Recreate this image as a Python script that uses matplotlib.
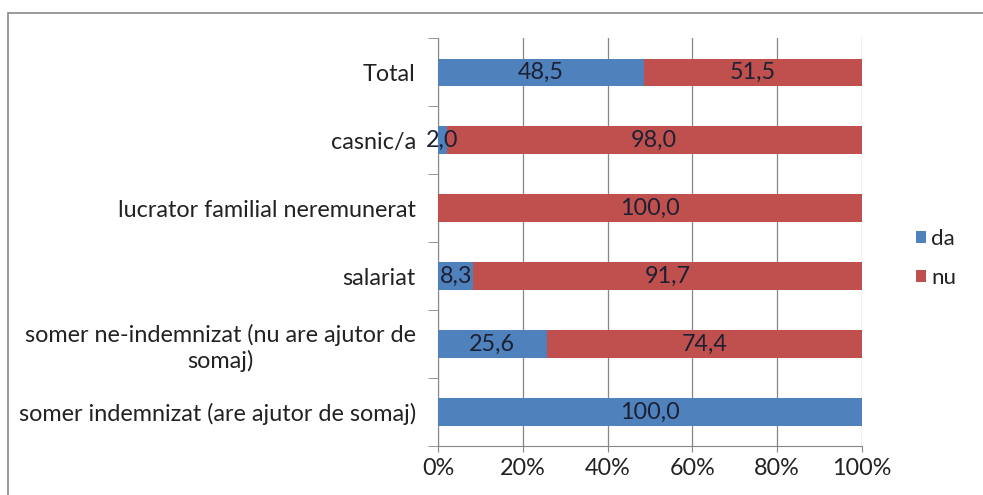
import numpy as np
import matplotlib.pyplot as plt
from matplotlib.patches import Rectangle

plt.rcParams['font.family'] = ['Lato', 'DejaVu Sans']

categories = ['somer indemnizat (are ajutor de somaj)',
              'somer ne-indemnizat (nu are ajutor de\nsomaj)',
              'salariat',
              'lucrator familial neremunerat',
              'casnic/a',
              'Total']
da = [100.0, 25.6, 8.3, 0.0, 2.0, 48.5]
nu = [0.0, 74.4, 91.7, 100.0, 98.0, 51.5]

blue = '#4F81BD'
red = '#C0504D'
fs = 16.8

fig = plt.figure(figsize=(9.83, 4.95), dpi=100)
ax = fig.add_axes([0.4456, 0.099, 0.4313, 0.824])

y = np.arange(len(categories))
b1 = ax.barh(y, da, height=0.4, color=blue, label='da', zorder=3)
b2 = ax.barh(y, nu, left=da, height=0.4, color=red, label='nu', zorder=3)

fmt = lambda v: ('%.1f' % v).replace('.', ',')
for bars, vals in ((b1, da), (b2, nu)):
    ax.bar_label(bars, labels=[fmt(v) if v > 0 else '' for v in vals],
                 label_type='center', fontsize=fs, color='#1c2033', zorder=4)

ax.set_xlim(0, 100)
ax.set_ylim(-0.5, len(categories) - 0.5)
ax.set_xticks(np.arange(0, 101, 20))
ax.set_xticklabels(['%d%%' % v for v in range(0, 101, 20)], fontsize=fs,
                   color='#222222')
ax.set_yticks(y)
ax.set_yticklabels(categories, fontsize=fs, ha='right', multialignment='center',
                   color='#222222')
ax.tick_params(axis='y', which='major', length=0, pad=16)
ax.set_yticks(np.arange(-0.5, len(categories)), minor=True)
ax.tick_params(axis='y', which='minor', length=7, color='#868686')
ax.tick_params(axis='x', length=4, color='#868686', pad=5)

ax.grid(axis='x', color='#868686', linewidth=0.9, zorder=0)
for s in ('top', 'right'):
    ax.spines[s].set_visible(False)
for s in ('left', 'bottom'):
    ax.spines[s].set_color('#868686')

ax.legend(loc='center left', bbox_to_anchor=(1.1, 0.46), frameon=False,
          fontsize=16, labelcolor='#222222',
          handlelength=0.45, handleheight=0.45,
          handletextpad=0.25, labelspacing=0.85, borderpad=0)

fig.patches.append(Rectangle((8 / 983, -0.01), 1.0, 1 - 13 / 495 + 0.01,
                             transform=fig.transFigure, fill=False,
                             edgecolor='#8a8a8a', linewidth=1.2))

fig.savefig('out.png', dpi=100)
